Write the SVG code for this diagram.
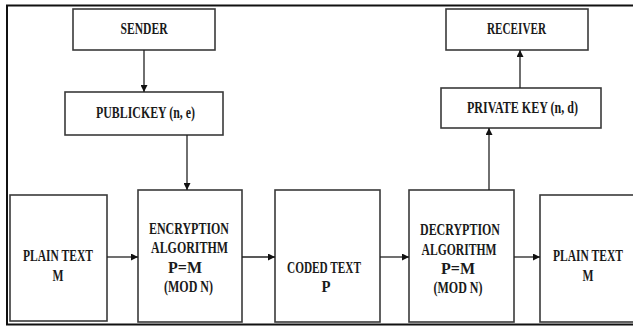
<svg xmlns="http://www.w3.org/2000/svg" width="633" height="329" viewBox="0 0 633 329">
  <style>
    .box { fill: #ffffff; stroke: #3a3a3a; stroke-width: 1.6; }
    .lbl { font-family: "Liberation Serif", "Times New Roman", serif; font-weight: bold; font-size: 17px; fill: #1a1a1a; text-anchor: middle; }
    .wire { stroke: #222222; stroke-width: 1.3; fill: none; }
  </style>
  <defs>
    <marker id="head" viewBox="0 0 10 10" refX="10" refY="5" markerWidth="7" markerHeight="7" markerUnits="userSpaceOnUse" orient="auto">
      <path d="M0,0 L10,5 L0,10 Z" fill="#111111"/>
    </marker>
  </defs>

  <rect width="633" height="329" fill="#ffffff"/>
  <!-- outer frame, open to the right where the page continues -->
  <path d="M633,5.5 H7 V324.5 H633" fill="none" stroke="#111111" stroke-width="2"/>

  <g id="sender">
    <rect class="box" x="73" y="9" width="142" height="41"/>
    <text class="lbl" x="144" y="34" textLength="47" lengthAdjust="spacingAndGlyphs">SENDER</text>
  </g>

  <g id="public-key">
    <rect class="box" x="65" y="92" width="158" height="43"/>
    <text class="lbl" x="145.5" y="118" textLength="99" lengthAdjust="spacingAndGlyphs">PUBLICKEY (n, e)</text>
  </g>

  <g id="receiver">
    <rect class="box" x="446" y="9" width="142" height="41"/>
    <text class="lbl" x="516.5" y="34" textLength="59" lengthAdjust="spacingAndGlyphs">RECEIVER</text>
  </g>

  <g id="private-key">
    <rect class="box" x="441" y="88" width="160" height="40"/>
    <text class="lbl" x="522.5" y="113" textLength="111" lengthAdjust="spacingAndGlyphs">PRIVATE KEY (n, d)</text>
  </g>

  <g id="plain-text-in">
    <rect class="box" x="10" y="195" width="97" height="126"/>
    <text class="lbl" x="58" y="261" textLength="70" lengthAdjust="spacingAndGlyphs">PLAIN TEXT</text>
    <text class="lbl" x="58" y="281" textLength="11" lengthAdjust="spacingAndGlyphs">M</text>
  </g>

  <g id="encryption">
    <rect class="box" x="138" y="190" width="104" height="132"/>
    <text class="lbl" x="189" y="234" textLength="80" lengthAdjust="spacingAndGlyphs">ENCRYPTION</text>
    <text class="lbl" x="189.5" y="253" textLength="77" lengthAdjust="spacingAndGlyphs">ALGORITHM</text>
    <text class="lbl" x="185" y="273" textLength="34" lengthAdjust="spacingAndGlyphs">P=M</text>
    <text class="lbl" x="188.5" y="292" textLength="49" lengthAdjust="spacingAndGlyphs">(MOD N)</text>
  </g>

  <g id="coded-text">
    <rect class="box" x="275" y="190" width="105" height="132"/>
    <text class="lbl" x="324" y="273" textLength="74" lengthAdjust="spacingAndGlyphs">CODED TEXT</text>
    <text class="lbl" x="326" y="292" textLength="9" lengthAdjust="spacingAndGlyphs">P</text>
  </g>

  <g id="decryption">
    <rect class="box" x="409" y="190" width="105" height="132"/>
    <text class="lbl" x="460" y="235" textLength="80" lengthAdjust="spacingAndGlyphs">DECRYPTION</text>
    <text class="lbl" x="459" y="255" textLength="75" lengthAdjust="spacingAndGlyphs">ALGORITHM</text>
    <text class="lbl" x="458" y="274" textLength="34" lengthAdjust="spacingAndGlyphs">P=M</text>
    <text class="lbl" x="458" y="293" textLength="49" lengthAdjust="spacingAndGlyphs">(MOD N)</text>
  </g>

  <g id="plain-text-out">
    <rect class="box" x="540" y="195" width="94" height="127"/>
    <text class="lbl" x="588" y="261" textLength="70" lengthAdjust="spacingAndGlyphs">PLAIN TEXT</text>
    <text class="lbl" x="588" y="281" textLength="11" lengthAdjust="spacingAndGlyphs">M</text>
  </g>

  <g id="connectors">
    <line class="wire" x1="144" y1="50" x2="144" y2="92" marker-end="url(#head)"/>
    <line class="wire" x1="187" y1="135" x2="187" y2="190" marker-end="url(#head)"/>
    <line class="wire" x1="107" y1="257" x2="138" y2="257" marker-end="url(#head)"/>
    <line class="wire" x1="242" y1="257" x2="275" y2="257" marker-end="url(#head)"/>
    <line class="wire" x1="380" y1="257" x2="409" y2="257" marker-end="url(#head)"/>
    <line class="wire" x1="514" y1="257" x2="540" y2="257" marker-end="url(#head)"/>
    <line class="wire" x1="489" y1="190" x2="489" y2="128" marker-end="url(#head)"/>
    <line class="wire" x1="520" y1="88" x2="520" y2="50" marker-end="url(#head)"/>
  </g>
</svg>
